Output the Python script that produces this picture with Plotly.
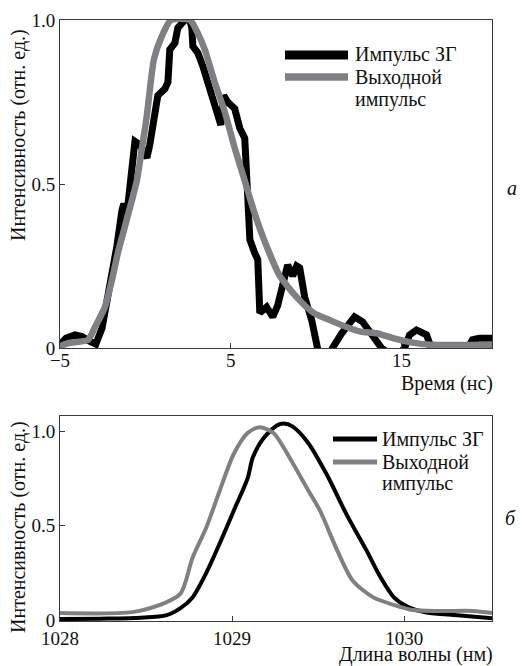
import plotly.graph_objects as go

# ---- Top panel (а): time domain ----
t_zg = [-5.0, -4.65, -4.12, -3.71, -3.25, -2.9, -2.54, -2.19, -1.9, -1.67, -1.37, -1.26, -1.08,
        -0.9, -0.73, -0.61, -0.32, 0.09, 0.26, 0.38, 0.56, 0.73, 1.14, 1.32, 1.43, 1.73, 1.9,
        2.13, 2.31, 2.6, 2.72, 2.78, 3.07, 3.36, 3.65, 3.95, 4.24, 4.42, 4.59, 4.82, 5.23,
        5.53, 5.82, 5.94, 6.0, 6.12, 6.4, 6.58, 6.65, 6.7, 7.1, 7.46, 7.75, 7.98, 8.33, 8.63,
        8.86, 9.04, 9.33, 9.74, 10.03, 10.2, 10.8, 10.96, 11.5, 11.96, 12.25, 12.72, 13.3,
        13.83, 14.6, 15.18, 15.47, 15.88, 16.46, 16.75, 17.5, 18.7, 19.15, 19.56, 20.3]
i_zg = [0.01, 0.03, 0.04, 0.035, 0.02, 0.012, 0.06, 0.155, 0.24, 0.31, 0.42, 0.44, 0.41,
        0.50, 0.57, 0.63, 0.62, 0.58, 0.62, 0.66, 0.74, 0.77, 0.79, 0.81, 0.91, 0.93, 0.976,
        0.99, 1.0, 1.0, 0.976, 0.92, 0.90, 0.86, 0.81, 0.75, 0.70, 0.68, 0.77, 0.75, 0.73,
        0.67, 0.64, 0.51, 0.36, 0.33, 0.29, 0.27, 0.18, 0.107, 0.125, 0.095, 0.13, 0.177, 0.253, 0.22,
        0.25, 0.244, 0.155, 0.085, 0.0, -0.03, -0.03, 0.0, 0.045, 0.08, 0.095, 0.08, 0.035,
        0.0, -0.03, 0.0, 0.04, 0.055, 0.04, 0.0, -0.03, -0.02, 0.025, 0.03, 0.03]

t_out = [-5.1, -4.53, -3.36, -2.95, -2.37, -1.96, -1.61, -1.2, -0.79, -0.5, -0.2, 0.09, 0.5,
         0.96, 1.5, 2.6, 3.07, 3.48, 4.06, 4.65, 5.23, 5.82, 6.4, 7.1, 7.87, 8.86, 9.85,
         10.8, 11.78, 12.6, 13.55, 14.5, 15.5, 16.7, 20.3]
i_out = [0.003, 0.015, 0.025, 0.064, 0.125, 0.207, 0.29, 0.37, 0.45, 0.51, 0.61, 0.71, 0.88,
         0.95, 1.0, 1.0, 0.96, 0.91, 0.81, 0.72, 0.61, 0.51, 0.41, 0.31, 0.22, 0.155, 0.107,
         0.085, 0.064, 0.05, 0.045, 0.03, 0.018, 0.01, 0.01]

# ---- Bottom panel (б): spectrum ----
wl_zg = [1028.0, 1028.23, 1028.47, 1028.62, 1028.70, 1028.77, 1028.85, 1028.93, 1029.01,
         1029.09, 1029.12, 1029.18, 1029.26, 1029.30, 1029.35, 1029.44, 1029.55, 1029.67,
         1029.78, 1029.86, 1029.94, 1030.02, 1030.13, 1030.31, 1030.51]
s_zg = [0.005, 0.007, 0.012, 0.026, 0.063, 0.12, 0.25, 0.41, 0.58, 0.75, 0.86, 0.96, 1.03,
        1.04, 1.025, 0.94, 0.77, 0.55, 0.37, 0.23, 0.12, 0.07, 0.04, 0.026, 0.01]

wl_out = [1028.0, 1028.42, 1028.58, 1028.70, 1028.77, 1028.85, 1028.93, 1029.01, 1029.09,
          1029.16, 1029.24, 1029.34, 1029.44, 1029.51, 1029.61, 1029.70, 1029.82, 1029.94,
          1030.05, 1030.21, 1030.40, 1030.51]
s_out = [0.037, 0.042, 0.08, 0.14, 0.33, 0.49, 0.69, 0.88, 0.99, 1.02, 0.99, 0.85, 0.69, 0.58,
         0.37, 0.21, 0.12, 0.08, 0.053, 0.048, 0.048, 0.037]

top_xticks = [-5, 5, 15]
top_xticktext = ["−5", "5", "15"]
top_yticks = [0, 0.5, 1.0]
top_yticktext = ["0", "0.5", "1.0"]
bot_xticks = [1028, 1029, 1030]
bot_xticktext = ["1028", "1029", "1030"]
bot_yticks = [0, 0.5, 1.0]
bot_yticktext = ["0", "0.5", "1.0"]

series_names = ["Импульс ЗГ", "Выходной", "импульс"]

BLACK = "#000000"
GRAY = "#808084"
AX = "#3a3a3a"
FONT = "Liberation Serif"
W, H = 522, 666

fig = go.Figure()
fig.add_trace(go.Scatter(x=t_zg, y=i_zg, mode="lines", line=dict(color=BLACK, width=7),
                         xaxis="x", yaxis="y", showlegend=False))
fig.add_trace(go.Scatter(x=t_out, y=i_out, mode="lines",
                         line=dict(color=GRAY, width=6.5, shape="spline", smoothing=0.6),
                         xaxis="x", yaxis="y", showlegend=False))
fig.add_trace(go.Scatter(x=wl_zg, y=s_zg, mode="lines",
                         line=dict(color=BLACK, width=4, shape="spline", smoothing=0.8),
                         xaxis="x2", yaxis="y2", showlegend=False))
fig.add_trace(go.Scatter(x=wl_out, y=s_out, mode="lines",
                         line=dict(color=GRAY, width=4, shape="spline", smoothing=0.8),
                         xaxis="x2", yaxis="y2", showlegend=False))

def px(x):
    return x / W

def py(y):
    return 1 - y / H

axis_common = dict(showline=True, mirror=True, linecolor=AX, linewidth=1, ticks="inside",
                   ticklen=5, tickcolor=AX, tickwidth=1, showgrid=False, zeroline=False,
                   automargin=False,
                   tickfont=dict(family=FONT, size=19, color="#111"))

xd = [px(60), px(492)]
fig.update_layout(
    width=W, height=H, margin=dict(l=0, r=0, t=0, b=0, pad=0, autoexpand=False),
    showlegend=False,
    paper_bgcolor="white", plot_bgcolor="white",
    font=dict(family=FONT, size=19, color="#111"),
    xaxis=dict(domain=xd, range=[-5, 20.3], tickvals=top_xticks, ticktext=top_xticktext,
               anchor="y", ticklabelstandoff=-5, **axis_common),
    yaxis=dict(domain=[py(348), py(20)], range=[0, 1.0], tickvals=top_yticks,
               ticktext=top_yticktext, anchor="x", **axis_common),
    xaxis2=dict(domain=xd, range=[1028, 1030.51], tickvals=bot_xticks, ticktext=bot_xticktext,
                anchor="y2", **axis_common),
    yaxis2=dict(domain=[py(621), py(416)], range=[-0.005, 1.08], tickvals=bot_yticks,
                ticktext=bot_yticktext, anchor="x2", **axis_common),
)

shapes = []
annotations = []

def legend_line(x0, x1, y, color, width):
    shapes.append(dict(type="line", xref="paper", yref="paper", x0=px(x0), x1=px(x1),
                       y0=py(y), y1=py(y), line=dict(color=color, width=width)))

def text(x, y, s, xanchor="left", size=20, angle=0, italic=False):
    if italic:
        s = "<i>" + s + "</i>"
    annotations.append(dict(x=px(x), y=py(y), xref="paper", yref="paper", text=s,
                            showarrow=False, xanchor=xanchor, yanchor="middle",
                            textangle=angle, font=dict(family=FONT, size=size, color="#111")))

# Top legend
legend_line(285, 348, 55, BLACK, 9)
legend_line(285, 348, 77, GRAY, 7.5)
text(353, 55, series_names[0])
text(353, 77, series_names[1])
text(353, 100, series_names[2])
# Bottom legend
legend_line(333, 377, 439, BLACK, 5)
legend_line(333, 377, 462, GRAY, 5)
text(380, 439, series_names[0])
text(380, 462, series_names[1])
text(380, 483, series_names[2])

# Axis titles
text(18, 135, "Интенсивность (отн. ед.)", xanchor="center", angle=-90)
text(18, 527, "Интенсивность (отн. ед.)", xanchor="center", angle=-90)
text(495, 383, "Время (нс)", xanchor="right")
text(495, 654, "Длина волны (нм)", xanchor="right")

# Panel labels
text(512, 188, "а", xanchor="center", italic=True)
text(510, 518, "б", xanchor="center", italic=True)

fig.update_layout(shapes=shapes, annotations=annotations)
fig.write_html("out.html", config={"displayModeBar": False},
               post_script="document.body.style.margin='0';document.body.style.padding='0';"
                           "document.documentElement.style.overflow='hidden';")
